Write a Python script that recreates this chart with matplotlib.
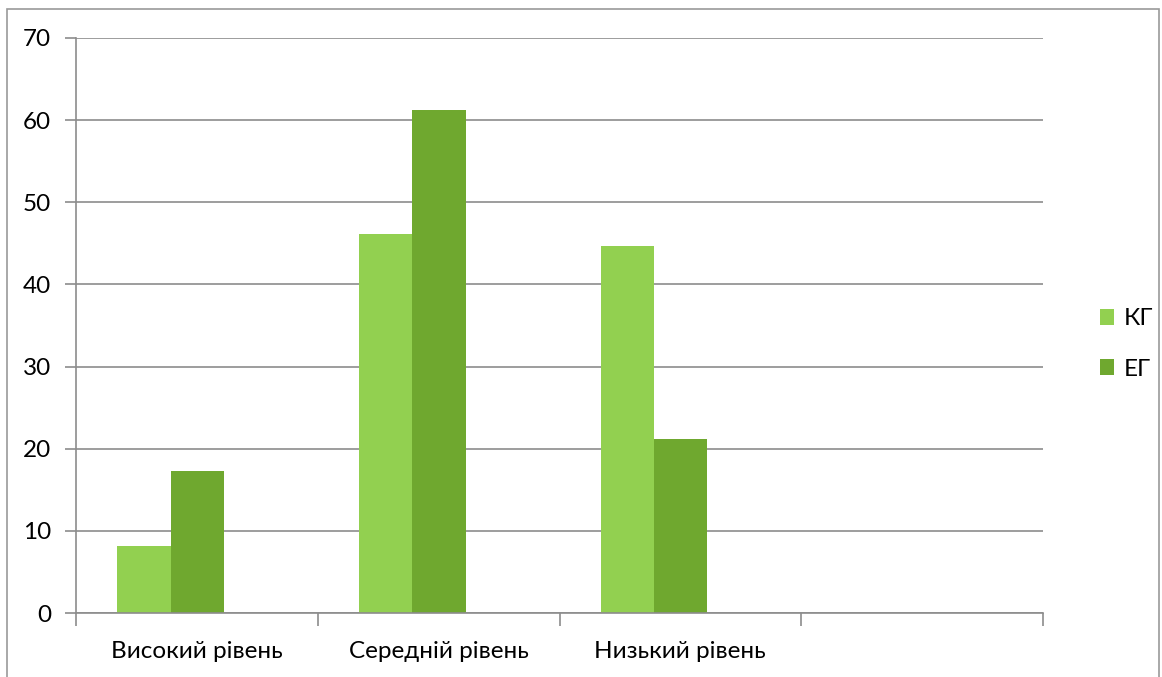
import matplotlib.pyplot as plt
import numpy as np
from matplotlib.patches import Rectangle

plt.rcParams['font.family'] = ['Lato', 'DejaVu Sans']

categories = ['Високий рівень', 'Середній рівень', 'Низький рівень', '']
kg = [8.1, 46.1, 44.7, 0]
eg = [17.3, 61.2, 21.2, 0]
series_names = ['КГ', 'ЕГ']
colors = ['#92D050', '#6FA82F']

fig = plt.figure(figsize=(11.62, 6.77), dpi=100)
ax = fig.add_axes([76 / 1162, 1 - 613 / 677, (1043 - 76) / 1162, (613 - 38) / 677])

# outer chart border (bottom edge falls off the picture)
fig.add_artist(Rectangle((7 / 1162, -0.01), (1159 - 7) / 1162, 1.01 - 9 / 677,
                         transform=fig.transFigure, fill=False,
                         edgecolor='#9a9a9a', linewidth=1.2))

x = np.arange(len(categories))
w = 0.2213
off = 0.1696
ax.bar(x + off, kg, width=w, align='edge', color=colors[0], label=series_names[0])
ax.bar(x + off + w, eg, width=w, align='edge', color=colors[1], label=series_names[1])

ax.set_xlim(0, len(categories))
ax.set_ylim(0, 70)
ax.set_yticks(range(0, 71, 10))
ax.yaxis.grid(True, color='#8c8c8c', linewidth=1.2)
ax.set_axisbelow(True)

ax.set_xticks(np.arange(len(categories) + 1))
ax.set_xticklabels([])
ax.set_xticks(x + 0.5, minor=True)
ax.set_xticklabels(categories, minor=True)
ax.tick_params(axis='x', which='minor', length=0, pad=20, labelsize=17.5)
ax.tick_params(axis='x', which='major', length=9, color='#8c8c8c', width=1.2)
ax.tick_params(axis='y', length=8, color='#8c8c8c', width=1.2, labelsize=17.5, pad=10)

for s in ['top', 'right']:
    ax.spines[s].set_visible(False)
ax.spines['left'].set_color('#8c8c8c')
ax.spines['bottom'].set_color('#8c8c8c')
ax.spines['left'].set_linewidth(1.2)
ax.spines['bottom'].set_linewidth(1.2)

fig.legend(loc='center left', bbox_to_anchor=(1078 / 1162, 1 - 344 / 677), frameon=False,
           fontsize=17.5, handlelength=0.6, handleheight=0.6, handletextpad=0.4,
           labelspacing=1.2)

fig.savefig('out.png', dpi=100)
